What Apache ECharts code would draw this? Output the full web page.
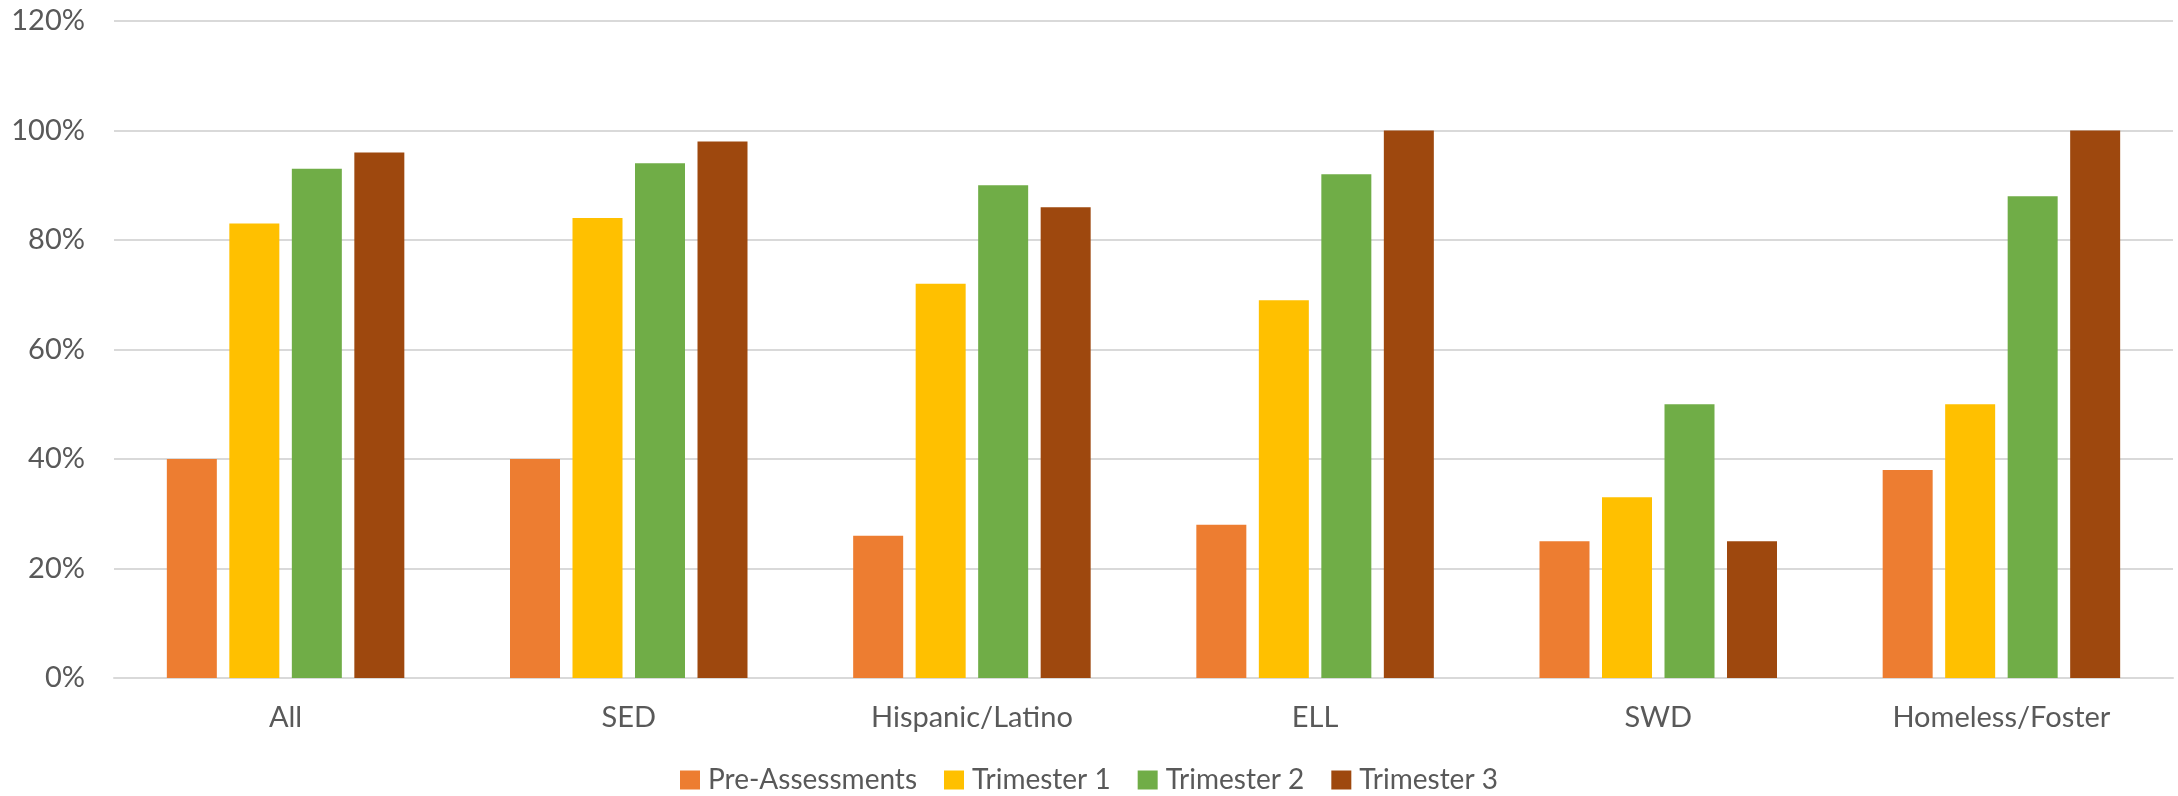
<!DOCTYPE html>
<html>
<head>
<meta charset="utf-8">
<title>Assessment results by group</title>
<script src="https://cdn.jsdelivr.net/npm/echarts@6/dist/echarts.min.js"></script>
<style>
  html, body { margin: 0; padding: 0; background: #fff; }
  #chart { width: 2178px; height: 796px; }
</style>
</head>
<body>
<div id="chart"></div>
<script>
// categories and series values (percent)
const groups = ['All', 'SED', 'Hispanic/Latino', 'ELL', 'SWD', 'Homeless/Foster']
const preAssessments = [40, 40, 26, 28, 25, 38]
const trimester1 = [83, 84, 72, 69, 33, 50]
const trimester2 = [93, 94, 90, 92, 50, 88]
const trimester3 = [96, 98, 86, 100, 25, 100]

const seriesNames = ['Pre-Assessments', 'Trimester 1', 'Trimester 2', 'Trimester 3']
const seriesData = [preAssessments, trimester1, trimester2, trimester3]
const colors = ['#ED7D31', '#FFC000', '#70AD47', '#9E480E']

const font = 'Lato, "Open Sans", sans-serif'
const textColor = '#595959'

const chart = echarts.init(document.getElementById('chart'))

const option = {
  animation: false,
  color: colors,
  grid: {
    left: 114,
    right: 5,
    top: 21,
    bottom: 118,
    containLabel: false
  },
  legend: {
    bottom: 2,
    left: 'center',
    padding: 0,
    itemWidth: 20,
    itemHeight: 19,
    itemGap: 27,
    icon: 'rect',
    textStyle: {
      fontFamily: font,
      fontSize: 28,
      color: textColor,
      padding: [0, 0, 0, 3]
    },
    data: seriesNames
  },
  xAxis: {
    type: 'category',
    data: groups,
    axisTick: { show: false },
    axisLine: { lineStyle: { color: '#d9d9d9', width: 2 } },
    axisLabel: {
      fontFamily: font,
      fontSize: 29,
      color: textColor,
      margin: 25
    }
  },
  yAxis: {
    type: 'value',
    min: 0,
    max: 120,
    interval: 20,
    axisLine: { show: false },
    axisTick: { show: false },
    splitLine: { lineStyle: { color: '#d9d9d9', width: 2 } },
    axisLabel: {
      fontFamily: font,
      fontSize: 29,
      color: textColor,
      margin: 29,
      formatter: '{value}%'
    }
  },
  series: seriesNames.map((name, i) => ({
    name: name,
    type: 'bar',
    data: seriesData[i],
    barWidth: 50,
    barGap: '25%',
    itemStyle: { color: colors[i] }
  }))
}

chart.setOption(option)
window.addEventListener('resize', () => chart.resize())
</script>
</body>
</html>
